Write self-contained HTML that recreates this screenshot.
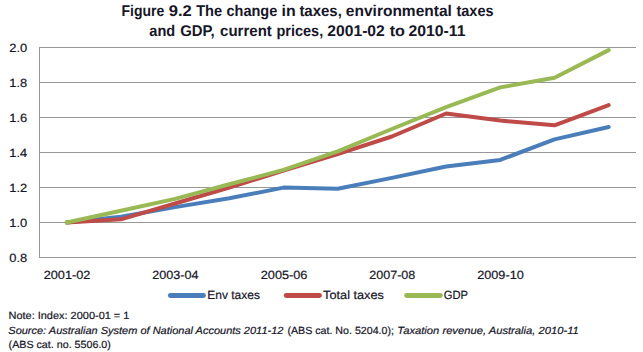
<!DOCTYPE html>
<html><head><meta charset="utf-8">
<style>
html,body{margin:0;padding:0;background:#fff;}
body{width:643px;height:352px;overflow:hidden;}
svg{display:block;}
text{font-family:"Liberation Sans",sans-serif;fill:#161628;text-rendering:geometricPrecision;}
.s text{stroke:#161628;stroke-width:0.2px;}
</style></head><body>
<svg width="643" height="352" viewBox="0 0 643 352">
<g font-weight="bold" font-size="15.5">
<text x="121.54" y="15.5" textLength="42.78" lengthAdjust="spacingAndGlyphs">Figure</text>
<text x="168.72" y="15.5" textLength="23.05" lengthAdjust="spacingAndGlyphs">9.2</text>
<text x="196.17" y="15.5" textLength="25.95" lengthAdjust="spacingAndGlyphs">The</text>
<text x="226.49" y="15.5" textLength="50.82" lengthAdjust="spacingAndGlyphs">change</text>
<text x="281.54" y="15.5" textLength="14.15" lengthAdjust="spacingAndGlyphs">in</text>
<text x="299.39" y="15.5" textLength="42.46" lengthAdjust="spacingAndGlyphs">taxes,</text>
<text x="345.87" y="15.5" textLength="105.99" lengthAdjust="spacingAndGlyphs">environmental</text>
<text x="456.51" y="15.5" textLength="37.04" lengthAdjust="spacingAndGlyphs">taxes</text>
<text x="149.31" y="36.4" textLength="25.89" lengthAdjust="spacingAndGlyphs">and</text>
<text x="180.18" y="36.4" textLength="34.58" lengthAdjust="spacingAndGlyphs">GDP,</text>
<text x="220.08" y="36.4" textLength="51.72" lengthAdjust="spacingAndGlyphs">current</text>
<text x="276.46" y="36.4" textLength="46.77" lengthAdjust="spacingAndGlyphs">prices,</text>
<text x="327.33" y="36.4" textLength="57.45" lengthAdjust="spacingAndGlyphs">2001-02</text>
<text x="389.65" y="36.4" textLength="15.24" lengthAdjust="spacingAndGlyphs">to</text>
<text x="408.53" y="36.4" textLength="56.95" lengthAdjust="spacingAndGlyphs">2010-11</text>
</g>
<g stroke="#979797" stroke-width="1" shape-rendering="crispEdges">
<line x1="39" y1="47.5" x2="636" y2="47.5"/>
<line x1="39" y1="82.5" x2="636" y2="82.5"/>
<line x1="39" y1="117.5" x2="636" y2="117.5"/>
<line x1="39" y1="152.5" x2="636" y2="152.5"/>
<line x1="39" y1="187.5" x2="636" y2="187.5"/>
<line x1="39" y1="222.5" x2="636" y2="222.5"/>
<line x1="39" y1="257.5" x2="636" y2="257.5"/>
<line x1="39.5" y1="47" x2="39.5" y2="258"/>
</g>
<g class="s" font-size="11.9">
<text x="9.36" y="52.0" textLength="17.89" lengthAdjust="spacingAndGlyphs">2.0</text>
<text x="9.36" y="87.0" textLength="17.89" lengthAdjust="spacingAndGlyphs">1.8</text>
<text x="9.36" y="122.0" textLength="17.89" lengthAdjust="spacingAndGlyphs">1.6</text>
<text x="9.36" y="157.0" textLength="17.89" lengthAdjust="spacingAndGlyphs">1.4</text>
<text x="9.36" y="192.0" textLength="17.89" lengthAdjust="spacingAndGlyphs">1.2</text>
<text x="9.36" y="227.0" textLength="17.89" lengthAdjust="spacingAndGlyphs">1.0</text>
<text x="9.36" y="262.0" textLength="17.89" lengthAdjust="spacingAndGlyphs">0.8</text>
<text x="43.73" y="278.6" textLength="46.68" lengthAdjust="spacingAndGlyphs">2001-02</text>
<text x="152.24" y="278.6" textLength="46.19" lengthAdjust="spacingAndGlyphs">2003-04</text>
<text x="260.73" y="278.6" textLength="46.73" lengthAdjust="spacingAndGlyphs">2005-06</text>
<text x="369.34" y="278.6" textLength="45.89" lengthAdjust="spacingAndGlyphs">2007-08</text>
<text x="477.24" y="278.6" textLength="46.5" lengthAdjust="spacingAndGlyphs">2009-10</text>
<text x="207.21" y="298.7" textLength="52.76" lengthAdjust="spacingAndGlyphs">Env taxes</text>
<text x="323.1" y="298.7" textLength="60.8" lengthAdjust="spacingAndGlyphs">Total taxes</text>
<text x="443.82" y="298.7" textLength="24.17" lengthAdjust="spacingAndGlyphs">GDP</text>
</g>
<g fill="none" stroke-width="4" stroke-linecap="round" stroke-linejoin="round">
<polyline stroke="#4A7EBB" points="66.70,222.50 120.90,216.80 175.10,207.10 229.30,198.30 283.50,187.60 337.70,188.70 391.90,177.90 446.10,166.56 500.30,159.90 554.50,139.40 608.70,127.07"/>
<polyline stroke="#BE4B48" points="66.70,222.50 120.90,219.30 175.10,203.50 229.30,187.50 283.50,170.70 337.70,154.10 391.90,136.50 446.10,113.50 500.30,120.60 554.50,125.30 608.70,105.10"/>
<polyline stroke="#98B954" points="66.70,222.50 120.90,210.70 175.10,198.90 229.30,184.30 283.50,169.90 337.70,151.40 391.90,129.00 446.10,107.10 500.30,87.40 554.50,77.80 608.70,50.10"/>
<line stroke="#4A7EBB" stroke-width="4.8" x1="170.3" y1="295.5" x2="203.5" y2="295.5"/>
<line stroke="#BE4B48" stroke-width="4.8" x1="286.2" y1="295.5" x2="319.5" y2="295.5"/>
<line stroke="#98B954" stroke-width="4.8" x1="406.6" y1="295.5" x2="440.4" y2="295.5"/>
</g>
<g class="s" font-size="10.4">
<text x="8.5" y="319.0" textLength="120.9" lengthAdjust="spacingAndGlyphs">Note: Index: 2000-01 = 1</text>
<text x="8.3" y="334.1" textLength="275.1" lengthAdjust="spacingAndGlyphs" font-style="italic">Source: Australian System of National Accounts 2011-12</text>
<text x="287.47" y="334.1" textLength="106.46" lengthAdjust="spacingAndGlyphs">(ABS cat. No. 5204.0);</text>
<text x="397.39" y="334.1" textLength="181.41" lengthAdjust="spacingAndGlyphs" font-style="italic">Taxation revenue, Australia, 2010-11</text>
<text x="8.59" y="348.0" textLength="102.32" lengthAdjust="spacingAndGlyphs">(ABS cat. no. 5506.0)</text>
</g>
</svg>
</body></html>
